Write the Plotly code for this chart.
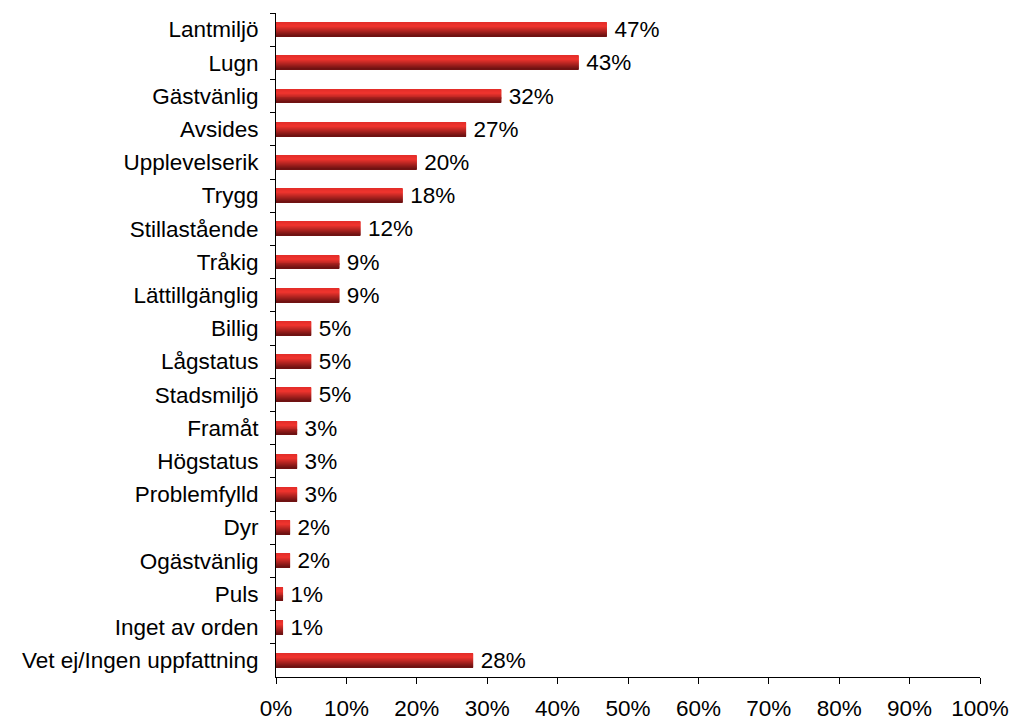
import plotly.graph_objects as go

# Share of respondents choosing each word (percent)
categories = [
    "Lantmiljö", "Lugn", "Gästvänlig", "Avsides", "Upplevelserik", "Trygg",
    "Stillastående", "Tråkig", "Lättillgänglig", "Billig", "Lågstatus",
    "Stadsmiljö", "Framåt", "Högstatus", "Problemfylld", "Dyr",
    "Ogästvänlig", "Puls", "Inget av orden", "Vet ej/Ingen uppfattning",
]
values = [47, 43, 32, 27, 20, 18, 12, 9, 9, 5, 5, 5, 3, 3, 3, 2, 2, 1, 1, 28]
x_ticks = list(range(0, 101, 10))
x_tick_labels = [f"{t}%" for t in x_ticks]

BAR_WIDTH = 0.42
FONT = "Liberation Sans, Arial, sans-serif"
FONT_SIZE = 22.5


def lerp(c1, c2, t):
    return tuple(round(a + (b - a) * t) for a, b in zip(c1, c2))


# vertical shading of each bar: bright red near the top, dark maroon at the bottom
stops = [(0.0, (226, 44, 40)), (0.3, (240, 52, 46)), (1.0, (105, 16, 16))]


def shade(t):
    for (t0, c0), (t1, c1) in zip(stops, stops[1:]):
        if t <= t1:
            return lerp(c0, c1, (t - t0) / (t1 - t0))
    return stops[-1][1]


n_slices = 14
slice_w = BAR_WIDTH / n_slices

fig = go.Figure()
for i in range(n_slices):
    r, g, b = shade((i + 0.5) / n_slices)
    fig.add_trace(go.Bar(
        x=values, y=categories, orientation="h",
        width=slice_w * 1.05, offset=-BAR_WIDTH / 2 + i * slice_w,
        marker=dict(color=f"rgb({r},{g},{b})", line=dict(width=0)),
        hoverinfo="skip", showlegend=False,
    ))

# value labels
fig.add_trace(go.Bar(
    x=values, y=categories, orientation="h",
    width=BAR_WIDTH, offset=-BAR_WIDTH / 2,
    marker=dict(color="rgba(0,0,0,0)", line=dict(width=0)),
    text=[f"\u2009{v}%" for v in values], textposition="outside",
    constraintext="none",
    textfont=dict(family=FONT, size=FONT_SIZE, color="black"),
    cliponaxis=False, showlegend=False,
))

fig.update_layout(
    barmode="overlay",
    width=1013, height=722,
    margin=dict(l=276, r=33, t=13, b=45),
    paper_bgcolor="white", plot_bgcolor="white",
    font=dict(family=FONT, size=FONT_SIZE, color="black"),
    xaxis=dict(
        range=[0, 100], tickvals=x_ticks, ticktext=x_tick_labels,
        showgrid=False, zeroline=False, showline=True, linecolor="black",
        linewidth=1, ticks="outside", ticklen=6, tickcolor="black",
        ticklabelstandoff=5, automargin=False,
        tickfont=dict(family=FONT, size=FONT_SIZE, color="black"),
    ),
    yaxis=dict(
        autorange="reversed", showgrid=False, zeroline=False,
        showline=True, linecolor="black", linewidth=1,
        ticks="outside", ticklen=5, tickcolor="black", tickson="boundaries",
        ticklabelstandoff=12, automargin=False,
        tickfont=dict(family=FONT, size=FONT_SIZE, color="black"),
    ),
)

fig.write_html("out.html")
